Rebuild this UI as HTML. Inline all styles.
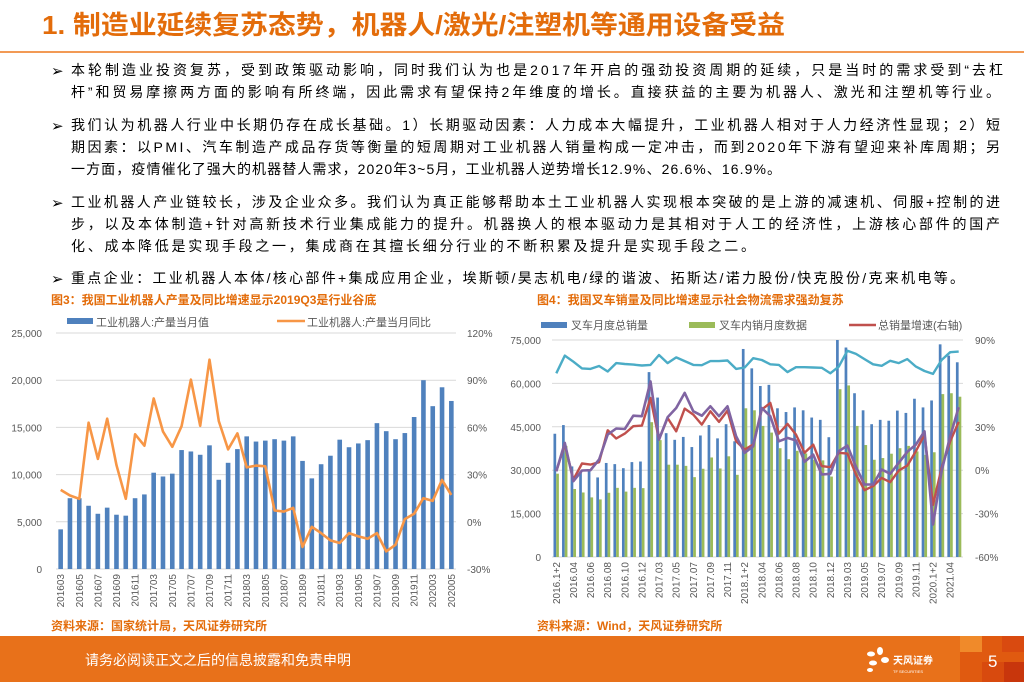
<!DOCTYPE html>
<html><head><meta charset="utf-8">
<style>
html,body{margin:0;padding:0;background:#fff;}
svg{display:block;font-family:"Liberation Sans","Noto Sans CJK SC",sans-serif;}
</style></head>
<body>
<svg id="slide" width="1024" height="682" viewBox="0 0 1024 682" xmlns="http://www.w3.org/2000/svg">
  <text x="42" y="34" font-size="26" font-weight="bold" fill="#E36C0A" textLength="743" lengthAdjust="spacingAndGlyphs">1. 制造业延续复苏态势，机器人/激光/注塑机等通用设备受益</text>
  <rect x="0" y="51" width="1024" height="2" fill="#F29A55"/>

  <g font-size="14" fill="#000">
    <text x="51" y="76" font-size="15">➢</text>
    <text x="71" y="75" textLength="932" lengthAdjust="spacing">本轮制造业投资复苏，受到政策驱动影响，同时我们认为也是2017年开启的强劲投资周期的延续，只是当时的需求受到“去杠</text>
    <text x="71" y="97" textLength="929" lengthAdjust="spacing">杆”和贸易摩擦两方面的影响有所终端，因此需求有望保持2年维度的增长。直接获益的主要为机器人、激光和注塑机等行业。</text>
    <text x="51" y="131" font-size="15">➢</text>
    <text x="71" y="130" textLength="929" lengthAdjust="spacing">我们认为机器人行业中长期仍存在成长基础。1）长期驱动因素：人力成本大幅提升，工业机器人相对于人力经济性显现；2）短</text>
    <text x="71" y="152" textLength="929" lengthAdjust="spacing">期因素：以PMI、汽车制造产成品存货等衡量的短周期对工业机器人销量构成一定冲击，而到2020年下游有望迎来补库周期；另</text>
    <text x="71" y="174" textLength="710" lengthAdjust="spacing">一方面，疫情催化了强大的机器替人需求，2020年3~5月，工业机器人逆势增长12.9%、26.6%、16.9%。</text>
    <text x="51" y="208" font-size="15">➢</text>
    <text x="71" y="207" textLength="929" lengthAdjust="spacing">工业机器人产业链较长，涉及企业众多。我们认为真正能够帮助本土工业机器人实现根本突破的是上游的减速机、伺服+控制的进</text>
    <text x="71" y="229" textLength="929" lengthAdjust="spacing">步，以及本体制造+针对高新技术行业集成能力的提升。机器换人的根本驱动力是其相对于人工的经济性，上游核心部件的国产</text>
    <text x="71" y="251" textLength="684" lengthAdjust="spacing">化、成本降低是实现手段之一，集成商在其擅长细分行业的不断积累及提升是实现手段之二。</text>
    <text x="51" y="284" font-size="15">➢</text>
    <text x="71" y="283" textLength="893" lengthAdjust="spacing">重点企业：工业机器人本体/核心部件+集成应用企业，埃斯顿/昊志机电/绿的谐波、拓斯达/诺力股份/快克股份/克来机电等。</text>
  </g>

  <text x="51" y="304" font-size="12" font-weight="bold" fill="#E36C0A">图3：我国工业机器人产量及同比增速显示2019Q3是行业谷底</text>
  <text x="537" y="304" font-size="12" font-weight="bold" fill="#E36C0A">图4：我国叉车销量及同比增速显示社会物流需求强劲复苏</text>
  <g id="chart3"></g>
  <g id="chart4"></g>
  <text x="51" y="630" font-size="12" font-weight="bold" fill="#E36C0A">资料来源：国家统计局，天风证券研究所</text>
  <text x="537" y="630" font-size="12" font-weight="bold" fill="#E36C0A">资料来源：Wind，天风证券研究所</text>

  <g>
    <rect x="0" y="636" width="1024" height="46" fill="#E8711A"/>
    <rect x="960" y="636" width="64" height="46" fill="#E05A10"/>
    <rect x="960" y="636" width="22" height="16" fill="#F08A2A"/>
    <rect x="1002" y="636" width="22" height="16" fill="#D94A10"/>
    <rect x="982" y="662" width="22" height="20" fill="#D84A0E"/>
    <rect x="1004" y="662" width="20" height="20" fill="#C8360C"/>
    <text x="85" y="665" font-size="14" fill="#fff">请务必阅读正文之后的信息披露和免责申明</text>
    <g fill="#fff">
      <ellipse cx="871" cy="654" rx="4" ry="2.5"/>
      <ellipse cx="880" cy="651" rx="3" ry="4"/>
      <ellipse cx="873" cy="663" rx="4" ry="2.5"/>
      <ellipse cx="885" cy="660" rx="4" ry="3"/>
      <ellipse cx="870" cy="670" rx="3" ry="2"/>
      <text x="893" y="664" font-size="10" font-weight="bold">天风证券</text>
      <text x="893" y="673" font-size="4">TF SECURITIES</text>
    </g>
    <text x="988" y="667" font-size="17" fill="#fff">5</text>
  </g>
</svg>

<script>
// ---------- Chart 3 data ----------
const robotMonths = ["201603","201604","201605","201606","201607","201608","201609","201610","201611","201612",
"201703","201704","201705","201706","201707","201708","201709","201710","201711","201712",
"201803","201804","201805","201806","201807","201808","201809","201810","201811","201812",
"201903","201904","201905","201906","201907","201908","201909","201910","201911","201912",
"202003","202004","202005"];
const robotOutput = [4200,7500,7500,6700,5850,6500,5750,5650,7500,7900,
10200,9800,10100,12600,12450,12100,13100,9450,11250,12700,
14050,13500,13600,13750,13600,14050,11450,9600,11100,12000,
13700,12900,13300,13650,15450,14600,13750,14400,16100,20000,
17250,19250,17800];
const robotYoY = [20.3,16.7,14.6,63,40,65.5,36,14.6,55.6,48.4,
78.4,57.3,47.7,60.8,90.4,61,103,64,46,56.2,
34.6,35.7,35.3,7.2,6.5,8.9,-16,-3.2,-7.2,-11.8,
-13.5,-7.2,-9.3,-10.8,-7.2,-18.8,-14.6,1.7,5.1,15,
13.3,26.6,17.1];
const robotLeftTicks = [0,5000,10000,15000,20000,25000];
const robotRightTicks = [-30,0,30,60,90,120];

// ---------- Chart 4 data ----------
const forkMonths = ["2016.1+2","2016.03","2016.04","2016.05","2016.06","2016.07","2016.08","2016.09","2016.10","2016.11","2016.12",
"2017.1+2","2017.03","2017.04","2017.05","2017.06","2017.07","2017.08","2017.09","2017.10","2017.11","2017.12",
"2018.1+2","2018.03","2018.04","2018.05","2018.06","2018.07","2018.08","2018.09","2018.10","2018.11","2018.12",
"2019.1+2","2019.03","2019.04","2019.05","2019.06","2019.07","2019.08","2019.09","2019.10","2019.11","2019.12",
"2020.1+2","2021.03","2021.04","2021.05"];
const forkTotal = [42600,45600,31300,29600,29600,27500,32500,32100,30700,32800,33000,
63900,55100,42800,40500,41500,38000,42000,45600,41000,45900,40000,
71900,65200,59100,59500,51400,50100,51700,50700,48200,47400,41400,
75000,72400,56600,50700,45900,47400,47100,50600,49800,54700,51700,
54100,73500,69600,67300];
const forkDomestic = [28800,38400,23500,22300,20600,19900,22200,23900,22600,23900,23800,
46600,40400,31900,31900,31500,27600,30500,34400,30600,34800,28400,
51400,50700,45300,43000,37600,33800,36700,35800,33600,33400,27800,
58000,59300,45300,38700,33600,34200,35700,37600,38400,36500,35300,
36200,56300,56600,55400];
const forkCyan = [63500,69600,67500,65200,65000,66000,64100,67000,66700,66500,66200,
66400,69800,67000,69000,67700,66400,66300,67700,67700,67900,65000,
65500,68700,68100,66600,66400,63900,65600,65600,65500,65400,63500,
65800,71300,70200,68400,66600,66100,67800,67000,68400,65800,64300,
63300,68100,70800,71000];
const forkGrowth = [-0.7,17.7,-6.4,4.6,3.9,5.5,27.6,21.9,25.3,30.4,30.8,
49.9,21.2,36.1,26.9,42.6,38.4,31.5,40.7,33.4,41.2,20,
14.3,17.7,41.9,46.5,25.3,32,24.6,12,17.7,2.8,2.1,
12,11.5,-3,-13.8,-11,-5.3,-8.3,-0.2,3.2,13.1,24.6,
-24,1.6,20,33.4];
const forkPurple = [-0.7,18.9,-7.6,-0.2,0,7.4,24.6,28.8,28.5,37.7,37.3,
61.4,21.2,36.6,43,53.4,40.7,37.7,44.2,37.3,44.2,23.5,
12,16.6,43,37.3,20,22.3,20.5,5.8,10.8,-3,-2.5,
13.1,17,2.3,-9.9,-9.9,0.5,-2.5,5.1,12.7,17.7,26.9,
-37.5,-0.7,23.5,43.5];
const forkLeftTicks = [0,15000,30000,45000,60000,75000];
const forkRightTicks = [-60,-30,0,30,60,90];

const NS = "http://www.w3.org/2000/svg";
function mk(parent, tag, attrs, text){
  const e = document.createElementNS(NS, tag);
  for (const k in attrs) e.setAttribute(k, attrs[k]);
  if (text !== undefined) e.textContent = text;
  parent.appendChild(e);
  return e;
}
function fmt(v){ return v.toString().replace(/\B(?=(\d{3})+(?!\d))/g, ","); }

// ---------- Draw Chart 3 ----------
(function(){
  const g = document.getElementById("chart3");
  const X0=56, X1=456, Y0=333, Y1=569;
  const n = robotMonths.length, cw = (X1-X0)/n;
  const xc = i => X0 + (i+0.5)*cw;
  const yL = v => Y1 - v/25000*(Y1-Y0);
  const yR = p => Y1 - (p+30)/150*(Y1-Y0);
  robotLeftTicks.forEach(t=>{
    const gl = mk(g,"line",{x1:X0,x2:X1,y1:yL(t),y2:yL(t),stroke:"#d9d9d9","stroke-width":1});
    
    
    const lb = mk(g,"text",{x:42,y:yL(t)+4,"font-size":10,fill:"#595959","text-anchor":"end"},fmt(t));
    
    
  });
  robotRightTicks.forEach(t=>{
    const lb = mk(g,"text",{x:467,y:yR(t)+4,"font-size":10,fill:"#595959"},t+"%");
    
    
  });
  robotOutput.forEach((v,i)=>{
    const b = mk(g,"rect",{x:xc(i)-2.3,y:yL(v),width:4.6,height:Y1-yL(v),fill:"#4F81BD"});
    
    
  });
  const pts = robotYoY.map((p,i)=>xc(i).toFixed(1)+","+yR(p).toFixed(1)).join(" ");
  const pl = mk(g,"polyline",{points:pts,fill:"none",stroke:"#F79646","stroke-width":2.6,"stroke-linejoin":"round"});
  
  
  robotMonths.forEach((m,i)=>{
    if(i%2) return;
    const t = mk(g,"text",{x:0,y:0,"font-size":10,fill:"#595959","text-anchor":"end",transform:"translate("+(xc(i)+3.5)+",574) rotate(-90)"},m);
    
    
  });
  const l1 = mk(g,"rect",{x:67,y:318,width:26,height:6,fill:"#4F81BD"});
  
  
  const l1t = mk(g,"text",{x:96,y:326,"font-size":11,fill:"#595959"},"工业机器人:产量当月值");
  
  
  const l2 = mk(g,"line",{x1:277,x2:305,y1:321,y2:321,stroke:"#F79646","stroke-width":2.6});
  
  
  const l2t = mk(g,"text",{x:307,y:326,"font-size":11,fill:"#595959"},"工业机器人:产量当月同比");
  
  
})();

// ---------- Draw Chart 4 ----------
(function(){
  const g = document.getElementById("chart4");
  const X0=552, X1=963, Y0=340, Y1=557;
  const n = forkMonths.length, cw = (X1-X0)/n;
  const xc = i => X0 + (i+0.5)*cw;
  const yL = v => Y1 - v/75000*(Y1-Y0);
  const yR = p => Y1 - (p+60)/150*(Y1-Y0);
  forkLeftTicks.forEach(t=>{
    const gl = mk(g,"line",{x1:X0,x2:X1,y1:yL(t),y2:yL(t),stroke:"#d9d9d9","stroke-width":1});
    
    
    const lb = mk(g,"text",{x:541,y:yL(t)+4,"font-size":10,fill:"#595959","text-anchor":"end"},fmt(t));
    
    
  });
  forkRightTicks.forEach(t=>{
    const lb = mk(g,"text",{x:975,y:yR(t)+4,"font-size":10,fill:"#595959"},t+"%");
    
    
  });
  forkTotal.forEach((v,i)=>{
    const b = mk(g,"rect",{x:xc(i)-2.8,y:yL(v),width:2.7,height:Y1-yL(v),fill:"#4F81BD"});
    
    
  });
  forkDomestic.forEach((v,i)=>{
    const b = mk(g,"rect",{x:xc(i)-0.1,y:yL(v),width:2.7,height:Y1-yL(v),fill:"#9BBB59"});
    
    
  });
  const cy = mk(g,"polyline",{points:forkCyan.map((v,i)=>xc(i).toFixed(1)+","+yL(v).toFixed(1)).join(" "),fill:"none",stroke:"#4BACC6","stroke-width":2.4,"stroke-linejoin":"round"});
  
  
  const rd = mk(g,"polyline",{points:forkGrowth.map((p,i)=>xc(i).toFixed(1)+","+yR(p).toFixed(1)).join(" "),fill:"none",stroke:"#C0504D","stroke-width":2.4,"stroke-linejoin":"round"});
  
  
  const pu = mk(g,"polyline",{points:forkPurple.map((p,i)=>xc(i).toFixed(1)+","+yR(p).toFixed(1)).join(" "),fill:"none",stroke:"#8064A2","stroke-width":2.6,"stroke-linejoin":"round"});
  
  
  forkMonths.forEach((m,i)=>{
    if(i%2) return;
    const t = mk(g,"text",{x:0,y:0,"font-size":10,fill:"#595959","text-anchor":"end",transform:"translate("+(xc(i)+3.5)+",562) rotate(-90)"},m);
    
    
  });
  const a = mk(g,"rect",{x:541,y:322,width:26,height:6,fill:"#4F81BD"});
  
  
  const at = mk(g,"text",{x:571,y:329,"font-size":11,fill:"#595959"},"叉车月度总销量");
  
  
  const b = mk(g,"rect",{x:689,y:322,width:26,height:6,fill:"#9BBB59"});
  
  
  const bt = mk(g,"text",{x:719,y:329,"font-size":11,fill:"#595959"},"叉车内销月度数据");
  
  
  const c = mk(g,"line",{x1:849,x2:876,y1:325,y2:325,stroke:"#C0504D","stroke-width":2.6});
  
  
  const ct = mk(g,"text",{x:878,y:329,"font-size":11,fill:"#595959"},"总销量增速(右轴)");
  
  
})();
</script>
</body></html>
